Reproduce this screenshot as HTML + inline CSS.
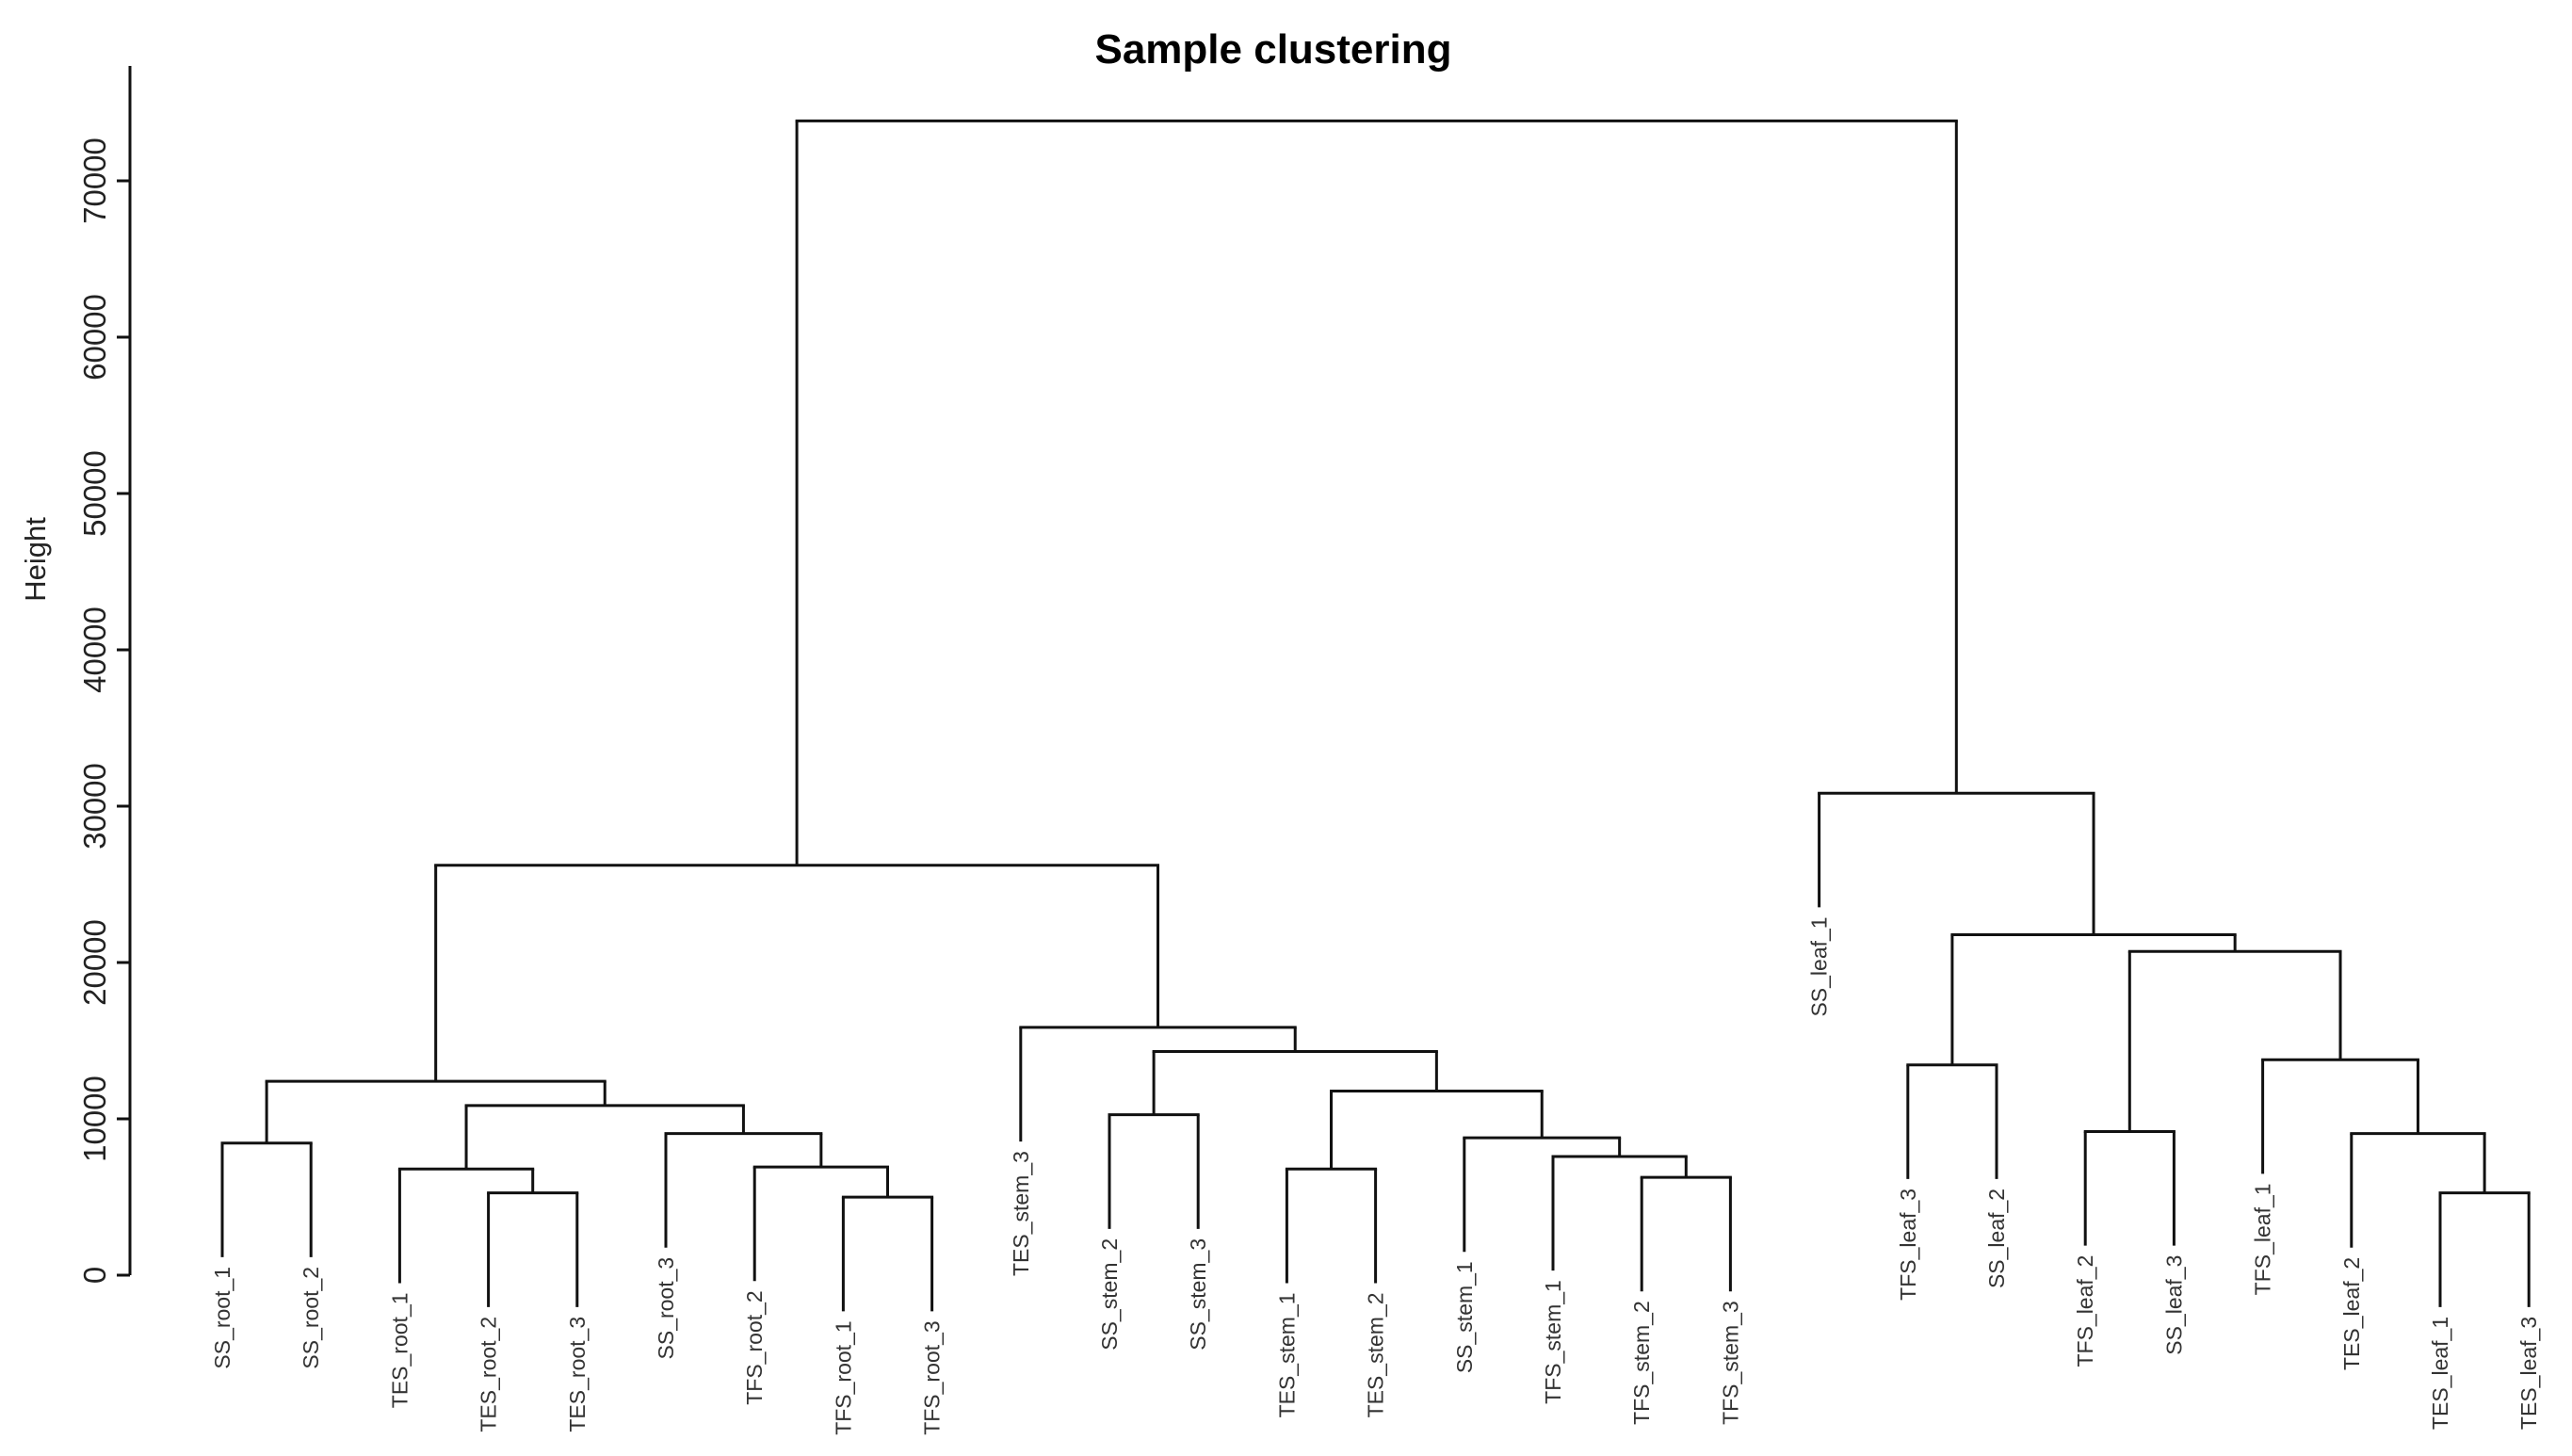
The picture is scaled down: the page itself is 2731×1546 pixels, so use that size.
<!DOCTYPE html>
<html><head><meta charset="utf-8"><style>
html,body{margin:0;padding:0;background:#fff;}
svg{display:block;font-family:"Liberation Sans",Arial,sans-serif;}
</style></head><body>
<svg id="chart" width="2731" height="1546" viewBox="0 0 2731 1546" xmlns="http://www.w3.org/2000/svg">
<text x="1352" y="67" text-anchor="middle" font-size="44" font-weight="bold" fill="#000">Sample clustering</text>
<text transform="translate(48,594) rotate(-90)" text-anchor="middle" font-size="31" fill="#222">Height</text>
<g id="axis"></g>
<g id="tree"></g>
<g id="labels"></g>
</svg>
<script>
const leafLabels = ["SS_root_1","SS_root_2","TES_root_1","TES_root_2","TES_root_3","SS_root_3","TFS_root_2","TFS_root_1","TFS_root_3","TES_stem_3","SS_stem_2","SS_stem_3","TES_stem_1","TES_stem_2","SS_stem_1","TFS_stem_1","TFS_stem_2","TFS_stem_3","SS_leaf_1","TFS_leaf_3","SS_leaf_2","TFS_leaf_2","SS_leaf_3","TFS_leaf_1","TES_leaf_2","TES_leaf_1","TES_leaf_3"];
const mergeLeft  = [-1,-4,-3,-8,-7,-6,3,1,-11,-13,-17,-16,-15,10,9,-10,8,-20,-22,-26,-25,-24,19,18,-19,17];
const mergeRight = [-2,-5,2,-9,4,5,6,7,-12,-14,-18,11,12,13,14,15,16,-21,-23,-27,20,21,22,23,24,25];
const mergeHeight = [8450,5260,6790,4990,6920,9060,10850,12400,10260,6790,6260,7590,8790,11780,14310,15850,26220,13450,9190,5260,9060,13780,20710,21780,30830,73830];
const yTicks = [0,10000,20000,30000,40000,50000,60000,70000];
const hang = 7300;

const NS="http://www.w3.org/2000/svg";
const y0=1354, pxPer=166/10000;
function yScale(v){return y0 - v*pxPer;}
function xLeaf(i){return 236 + i*94.2;}
function mk(tag,attrs,parent){const e=document.createElementNS(NS,tag);for(const k in attrs)e.setAttribute(k,attrs[k]);parent.appendChild(e);return e;}

const axis=document.getElementById('axis');
let a=mk('line',{x1:138,x2:138,y1:yScale(0),y2:70,stroke:'#111','stroke-width':3},axis);


yTicks.forEach(t=>{
  const l=mk('line',{x1:124,x2:138,y1:yScale(t),y2:yScale(t),stroke:'#111','stroke-width':3},axis);
  
  
  const tx=mk('text',{transform:`translate(112,${yScale(t)}) rotate(-90)`,'text-anchor':'middle','font-size':33,fill:'#222'},axis);
  tx.textContent=String(t);
  
  
});

const tree=document.getElementById('tree');
const labels=document.getElementById('labels');
const mx=[];
function nodeX(n){return n<0?xLeaf(-n-1):mx[n-1];}
function nodeH(n){return n<0?null:mergeHeight[n-1];}
for(let i=0;i<mergeHeight.length;i++){
  const L=mergeLeft[i],R=mergeRight[i],h=mergeHeight[i];
  const xl=nodeX(L),xr=nodeX(R);
  mx.push((xl+xr)/2);
  const y=yScale(h);
  [[L,xl],[R,xr]].forEach(([c,x])=>{
    const yb = c<0 ? yScale(h-hang) : yScale(nodeH(c));
    const v=mk('line',{x1:x,x2:x,y1:y,y2:yb,stroke:'#111','stroke-width':3},tree);
    
    
    if(c<0){
      const lt=mk('text',{transform:`translate(${x+8},${yb+10}) rotate(-90)`,'text-anchor':'end','font-size':23,fill:'#333'},labels);
      lt.textContent=leafLabels[-c-1];
      
      
    }
  });
  const hl=mk('line',{x1:xl-1.5,x2:xr+1.5,y1:y,y2:y,stroke:'#111','stroke-width':3},tree);
  
  
}
</script>
</body></html>
